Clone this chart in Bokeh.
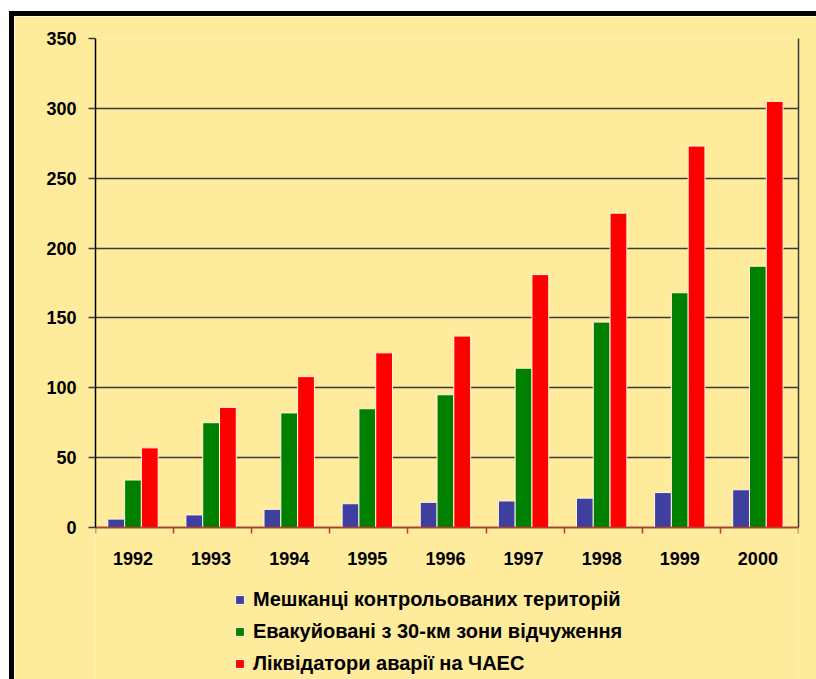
from bokeh.plotting import figure
from bokeh.models import FixedTicker, Range1d, Legend, LegendItem, ColumnDataSource, LinearAxis
from bokeh.embed import file_html
from bokeh.resources import INLINE

years = ["1992", "1993", "1994", "1995", "1996", "1997", "1998", "1999", "2000"]
residents = [6, 9, 13, 17, 18, 19, 21, 25, 27]
evacuated = [34, 75, 82, 85, 95, 114, 147, 168, 187]
liquidators = [57, 86, 108, 125, 137, 181, 225, 273, 305]
series_names = ["Мешканці контрольованих територій",
                "Евакуйовані з 30-км зони відчуження",
                "Ліквідатори аварії на ЧАЕС"]
series_colors = ["#3F3FA0", "#008000", "#FF0000"]
y_ticks = [0, 50, 100, 150, 200, 250, 300, 350]

BG = "#FFEB9C"
FONT = "Liberation Sans"

# geometry (pixels): canvas height, plot top margin, height of value axis 0..350
H = 668
TOP = 22
AXIS_PX = 489
Y_MAX = 350
px_per_unit = AXIS_PX / Y_MAX
y_min = -(H - TOP - AXIS_PX) / px_per_unit  # room below zero for year labels and legend

p = figure(width=807, height=H, output_backend="svg", toolbar_location=None,
           x_range=Range1d(0, len(years)), y_range=Range1d(y_min, Y_MAX),
           background_fill_color=BG, border_fill_color=BG,
           min_border_left=81, min_border_right=23, min_border_top=TOP, min_border_bottom=0,
           outline_line_color=None)
p.styles = {"border-left": "5px solid black", "border-top": "5px solid black",
            "margin-top": "11px", "margin-left": "9px"}

bw = 0.215
centers = [i + 0.48 for i in range(len(years))]
renderers = []
for k, (vals, col) in enumerate(zip([residents, evacuated, liquidators], series_colors)):
    src = ColumnDataSource(dict(x=[c + (k - 1) * bw for c in centers], top=vals))
    r = p.vbar(x="x", top="top", width=bw, bottom=0, source=src,
               fill_color=col, line_color="#FFF6E0", line_width=1)
    renderers.append(r)

# x axis at value 0
p.xaxis.fixed_location = 0
p.xaxis.ticker = FixedTicker(ticks=centers, minor_ticks=list(range(len(years) + 1)))
p.xaxis.major_label_overrides = {c: y for c, y in zip(centers, years)}
p.xaxis.major_tick_out = 0
p.xaxis.major_tick_in = 0
p.xaxis.minor_tick_out = 6
p.xaxis.minor_tick_in = 0
p.xaxis.minor_tick_line_color = "#B04030"
p.xaxis.minor_tick_line_width = 1.5
p.xaxis.axis_line_color = "#B04030"
p.xaxis.axis_line_width = 1.5
p.xaxis.major_label_standoff = 18
p.xgrid.visible = False

p.yaxis.bounds = (0, Y_MAX)
p.yaxis.ticker = FixedTicker(ticks=y_ticks)
p.yaxis.minor_tick_line_color = None
p.yaxis.major_tick_out = 7
p.yaxis.major_tick_in = 0
p.yaxis.major_tick_line_color = "#3a3a3a"
p.yaxis.major_tick_line_width = 1.5
p.yaxis.axis_line_color = "black"
p.yaxis.axis_line_width = 1.5
p.yaxis.major_label_standoff = 12
p.ygrid.grid_line_color = "#3a3a3a"
p.ygrid.grid_line_width = 1.5

# right frame line
right = LinearAxis(bounds=(0, Y_MAX), ticker=FixedTicker(ticks=[]),
                   major_tick_out=0, major_tick_in=0, minor_tick_out=0, minor_tick_in=0,
                   major_label_text_font_size="0px", axis_line_color="#3a3a3a",
                   axis_line_width=1.5)
p.add_layout(right, "right")

for ax in (p.xaxis[0], p.yaxis[0]):
    ax.major_label_text_font = FONT
    ax.major_label_text_font_style = "bold"
    ax.major_label_text_font_size = "18px"
    ax.major_label_text_color = "black"

legend = Legend(items=[LegendItem(label=n, renderers=[r]) for n, r in zip(series_names, renderers)],
                location=(139, 9), orientation="vertical",
                glyph_width=11, glyph_height=11, label_height=20, spacing=9,
                label_standoff=8, padding=0, margin=0,
                label_text_font=FONT, label_text_font_style="bold",
                label_text_font_size="20px", label_text_color="black",
                border_line_color=None, background_fill_alpha=0)
p.add_layout(legend, "center")

open("out.html", "w").write(file_html(p, INLINE))
